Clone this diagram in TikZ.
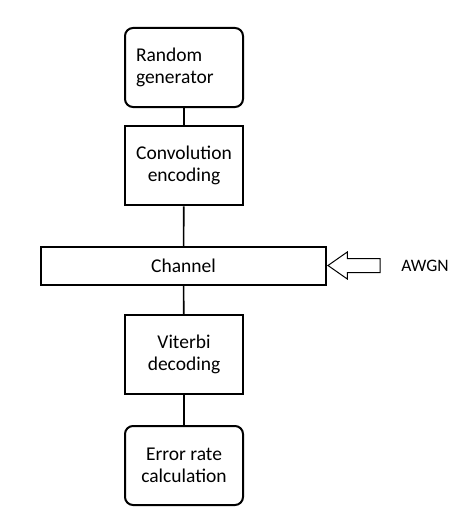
\documentclass[tikz,border=0pt]{standalone}
\usepackage{fontspec}
\setmainfont{Carlito}
\usetikzlibrary{shapes.arrows}
\begin{document}
\begin{tikzpicture}[x=1pt, y=-1pt,
		block/.style={draw=black, line width=2pt, minimum width=118pt, minimum height=79pt, align=center, inner sep=0pt, font=\fontsize{19.5}{22}\selectfont},
		roundblock/.style={block, rounded corners=8pt},
		link/.style={draw=black, line width=1.6pt}]
			\useasboundingbox (0,0) rectangle (472,511);
			\node[roundblock, align=left, text width=96pt] (rand) at (184, 67.5) {Random\\generator};
			\node[block, line width=2.6pt] (conv) at (184, 165.5) {Convolution\\encoding};
			\node[block, minimum width=285pt, minimum height=38pt] (chan) at (183.5, 266) {Channel};
			\node[block] (vit) at (184, 354.5) {Viterbi\\decoding};
			\node[roundblock] (err) at (184, 465.5) {Error rate\\calculation};
			\node[draw=black, line width=1pt, single arrow, shape border rotate=180, minimum height=52pt, inner xsep=0pt, inner ysep=6.5pt, single arrow head extend=6.5pt, single arrow tip angle=70] (noise) at (359, 265.5) {};
			\node[black, font=\fontsize{17.5}{21}\selectfont] (awgn) at (425, 266) {AWGN};
			\draw[link] (rand) -- (conv);
			\draw[link] (conv) -- (chan);
			\draw[link] (chan) -- (vit);
			\draw[link] (vit) -- (err);
		\end{tikzpicture}
\end{document}
